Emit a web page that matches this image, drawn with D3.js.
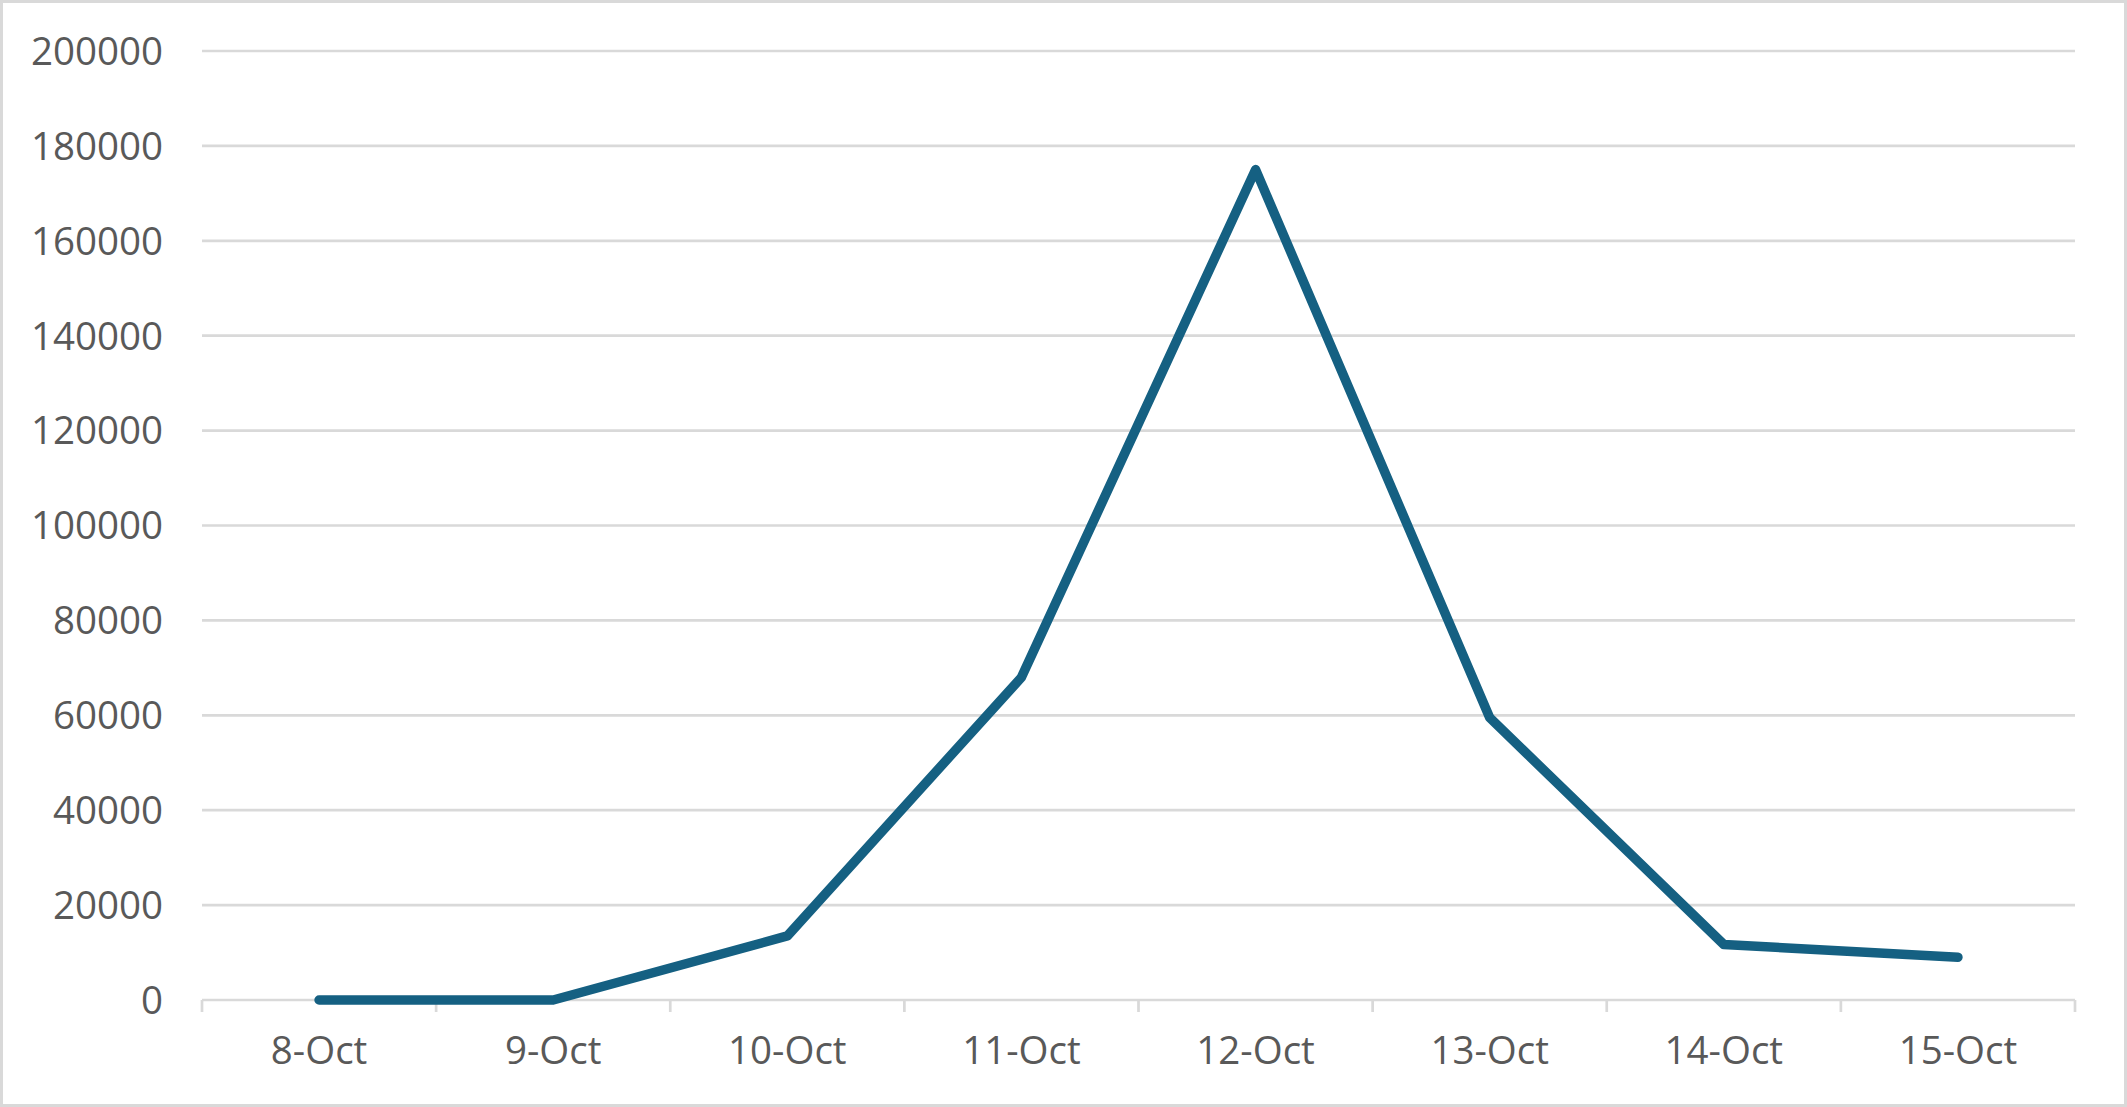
<!DOCTYPE html>
<html>
<head>
<meta charset="utf-8">
<script src="https://cdn.jsdelivr.net/npm/d3@7"></script>
<style>
  html, body { margin: 0; padding: 0; background: #fff; }
  svg { display: block; }
</style>
</head>
<body>
<script>
const categories = ["8-Oct", "9-Oct", "10-Oct", "11-Oct", "12-Oct", "13-Oct", "14-Oct", "15-Oct"];
const values = [0, 0, 13500, 68000, 175000, 59500, 11700, 9000];
const yTicks = [0, 20000, 40000, 60000, 80000, 100000, 120000, 140000, 160000, 180000, 200000];

const W = 2127, H = 1107;
const margin = { left: 202, right: 52, top: 51, bottom: 107 };
const svg = d3.select("body").append("svg").attr("width", W).attr("height", H);

svg.append("rect").attr("x", 1.5).attr("y", 1.5).attr("width", W - 3).attr("height", H - 3)
  .attr("fill", "#fff").attr("stroke", "#d9d9d9").attr("stroke-width", 3);

const x = d3.scaleBand().domain(categories).range([margin.left, W - margin.right]);
const y = d3.scaleLinear().domain([0, 200000]).range([H - margin.bottom, margin.top]);

const font = "'Open Sans', 'Liberation Sans', Arial, sans-serif";
const fs = "38.5px";

// gridlines
svg.append("g").selectAll("line").data(yTicks.filter(d => d > 0)).join("line")
  .attr("x1", margin.left).attr("x2", W - margin.right)
  .attr("y1", d => y(d)).attr("y2", d => y(d))
  .attr("stroke", "#d9d9d9").attr("stroke-width", 2.7);

// y labels
svg.append("g").selectAll("text").data(yTicks).join("text")
  .attr("x", 163).attr("y", d => y(d)).attr("dy", "0.36em")
  .attr("text-anchor", "end").attr("fill", "#595959")
  .style("font-family", font).style("font-size", fs)
  .text(d => d);

// x axis
const xAxis = d3.axisBottom(x).tickSize(0).tickFormat(d => d);
const gx = svg.append("g").attr("transform", `translate(0,${y(0)})`).call(xAxis);
gx.select(".domain").remove();
gx.selectAll("text").attr("fill", "#595959").style("font-family", font).style("font-size", fs)
  .attr("dy", null).attr("y", 64);
svg.append("line").attr("x1", margin.left).attr("x2", W - margin.right)
  .attr("y1", y(0)).attr("y2", y(0)).attr("stroke", "#d9d9d9").attr("stroke-width", 2.7);
const bounds = categories.map(c => x(c)).concat([x(categories[categories.length - 1]) + x.bandwidth()]);
svg.append("g").selectAll("line").data(bounds).join("line")
  .attr("x1", d => d).attr("x2", d => d)
  .attr("y1", y(0)).attr("y2", y(0) + 12)
  .attr("stroke", "#d9d9d9").attr("stroke-width", 2.7);

// line
const line = d3.line().x((d, i) => x(categories[i]) + x.bandwidth() / 2).y(d => y(d));
svg.append("path").datum(values).attr("d", line)
  .attr("fill", "none").attr("stroke", "#156082").attr("stroke-width", 9.5)
  .attr("stroke-linejoin", "round").attr("stroke-linecap", "round");
</script>
</body>
</html>
